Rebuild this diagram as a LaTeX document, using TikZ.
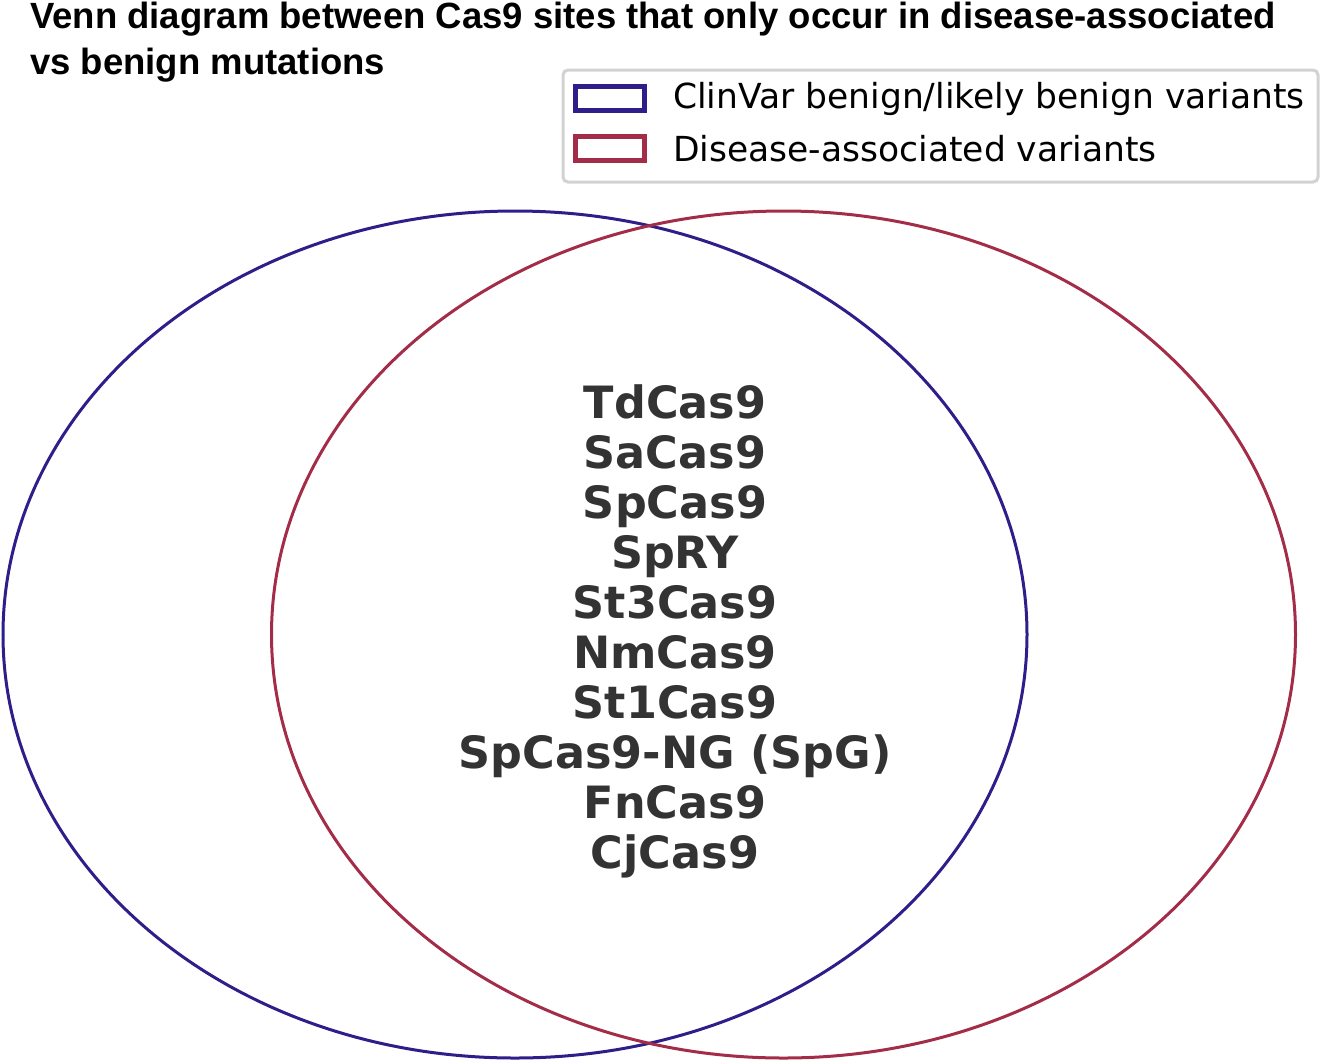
\documentclass[tikz,border=0pt]{standalone}
\usepackage{fontspec}
\setmainfont{DejaVu Sans}
\newfontfamily\titlefont{Liberation Sans}
\usetikzlibrary{positioning}
\definecolor{benignblue}{RGB}{46,30,138}
\definecolor{diseasered}{RGB}{163,44,72}
\definecolor{labelgray}{RGB}{51,51,51}
\definecolor{framegray}{RGB}{210,210,210}
\tikzset{
  vennset/.style={line width=3pt},
  patch/.style={draw, line width=5pt, minimum width=69pt, minimum height=24pt, inner sep=0pt},
  legendtext/.style={font=\fontsize{34.5}{40}\selectfont, anchor=west, inner sep=0pt},
}
\begin{document}
\begin{tikzpicture}[x=1pt, y=-1pt]
    \useasboundingbox (0,0) rectangle (1320,1061);
    % title
    \node (title) [anchor=north west, align=left, inner sep=0pt, font=\titlefont\bfseries\fontsize{36.5}{46}\selectfont]
        at (30,2) {Venn diagram between Cas9 sites that only occur in disease-associated\\vs benign mutations};
    % the two sets
    \draw [vennset, benignblue] (515,634.5) ellipse [x radius=512pt, y radius=423.5pt];
    \draw [vennset, diseasered] (783.5,634.5) ellipse [x radius=512pt, y radius=423.5pt];
    % shared sites
    \node (shared) [align=center, text=labelgray, font=\bfseries\fontsize{44.5}{50}\selectfont] at (675,631)
        {TdCas9\\SaCas9\\SpCas9\\SpRY\\St3Cas9\\NmCas9\\St1Cas9\\SpCas9-NG (SpG)\\FnCas9\\CjCas9};
    % legend
    \draw [rounded corners=5pt, draw=framegray, line width=3pt] (563,70) rectangle (1318,182);
    \node (benignpatch) [patch, draw=benignblue] at (610,98.5) {};
    \node (diseasepatch) [patch, draw=diseasered] at (610,148) {};
    \node (benigntext) [legendtext] at (673,99) {ClinVar benign/likely benign variants};
    \node (diseasetext) [legendtext] at (673,149) {Disease-associated variants};
\end{tikzpicture}
\end{document}
